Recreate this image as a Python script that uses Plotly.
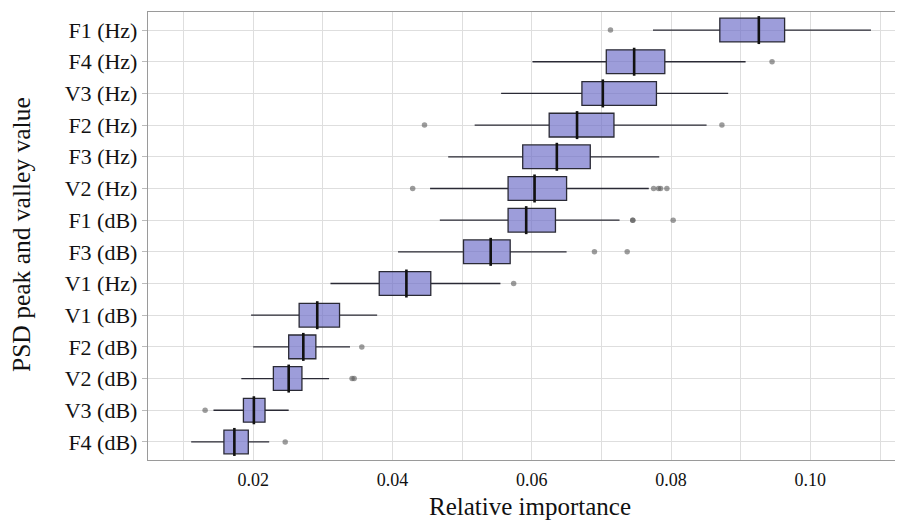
import plotly.graph_objects as go

categories = ["F1 (Hz)", "F4 (Hz)", "V3 (Hz)", "F2 (Hz)", "F3 (Hz)", "V2 (Hz)", "F1 (dB)",
              "F3 (dB)", "V1 (Hz)", "V1 (dB)", "F2 (dB)", "V2 (dB)", "V3 (dB)", "F4 (dB)"]
lower_whisker = [0.0774, 0.0601, 0.0556, 0.0518, 0.0480, 0.0454, 0.0468,
                 0.0408, 0.0311, 0.0197, 0.0200, 0.0183, 0.0143, 0.0111]
q1 = [0.0870, 0.0707, 0.0672, 0.0625, 0.0587, 0.0566, 0.0566,
      0.0502, 0.0381, 0.0266, 0.0251, 0.0229, 0.0186, 0.0158]
median = [0.0926, 0.0747, 0.0702, 0.0665, 0.0636, 0.0604, 0.0592,
          0.0541, 0.0420, 0.0292, 0.0272, 0.0251, 0.0201, 0.0173]
q3 = [0.0963, 0.0791, 0.0779, 0.0718, 0.0684, 0.0650, 0.0634,
      0.0569, 0.0455, 0.0324, 0.0290, 0.0270, 0.0217, 0.0193]
upper_whisker = [0.1087, 0.0907, 0.0882, 0.0851, 0.0783, 0.0768, 0.0726,
                 0.0650, 0.0555, 0.0378, 0.0339, 0.0309, 0.0251, 0.0223]
outlier_cat = ["F1 (Hz)", "F4 (Hz)", "F2 (Hz)", "F2 (Hz)", "V2 (Hz)", "V2 (Hz)", "V2 (Hz)",
               "V2 (Hz)", "V2 (Hz)", "F1 (dB)", "F1 (dB)", "F1 (dB)", "F3 (dB)", "F3 (dB)",
               "V1 (Hz)", "F2 (dB)", "V2 (dB)", "V2 (dB)", "V3 (dB)", "F4 (dB)"]
outlier_val = [0.0713, 0.0945, 0.0446, 0.0873, 0.0429, 0.0775, 0.0782, 0.0785,
               0.0794, 0.0745, 0.0745, 0.0803, 0.0690, 0.0737,
               0.0574, 0.0356, 0.0342, 0.0345, 0.0131, 0.0246]
x_ticks = [0.02, 0.04, 0.06, 0.08, 0.10]
x_tick_labels = ["0.02", "0.04", "0.06", "0.08", "0.10"]
x_title = "Relative importance"
y_title = "PSD peak and valley value"

fig = go.Figure()
fig.add_trace(go.Box(
    y=categories, q1=q1, median=median, q3=q3,
    lowerfence=lower_whisker, upperfence=upper_whisker,
    orientation="h", boxpoints=False, whiskerwidth=0, width=0.75,
    fillcolor="rgba(110,110,200,0.68)",
    line=dict(color="#2a2a35", width=1.3),
    showlegend=False, hoverinfo="skip",
))
fig.add_trace(go.Scatter(
    x=median, y=categories, mode="markers",
    marker=dict(symbol="line-ns", size=20, line=dict(color="#111111", width=2.6)),
    showlegend=False, hoverinfo="skip",
))
fig.add_trace(go.Scatter(
    x=outlier_val, y=outlier_cat, mode="markers",
    marker=dict(color="rgba(90,90,90,0.6)", size=5.5),
    showlegend=False, hoverinfo="skip",
))

# page body has an 8px default margin; compensate so the plot lands where the reference has it
page_off = 8
font_family = "Liberation Serif, Times New Roman, serif"
plot_left, plot_right, plot_top, plot_bottom = 148, 903, 12, 460
plot_w = plot_right - plot_left
plot_h = plot_bottom - plot_top
fig.update_layout(
    width=903 - page_off, height=525 - page_off,
    margin=dict(l=plot_left - page_off, r=0, t=plot_top - page_off,
                b=525 - plot_bottom, autoexpand=False),
    paper_bgcolor="white", plot_bgcolor="white",
    font=dict(family=font_family, color="#111111"),
    xaxis=dict(
        range=[0.0049, 0.1133],
        tickvals=x_ticks, ticktext=x_tick_labels,
        tickfont=dict(size=18, family=font_family),
        showgrid=True, gridcolor="#dedede", gridwidth=1,
        minor=dict(dtick=0.01, tick0=0.01, showgrid=True, gridcolor="#dedede", gridwidth=1),
        showline=True, linecolor="#9a9a9a", linewidth=1.3, mirror=True,
        ticks="outside", ticklen=3, tickcolor="rgba(0,0,0,0)",
        zeroline=False, automargin=False,
    ),
    yaxis=dict(
        categoryorder="array", categoryarray=categories[::-1],
        range=[-0.57, 13.57],
        tickfont=dict(size=22, family=font_family),
        showgrid=True, gridcolor="#dedede", gridwidth=1,
        showline=True, linecolor="#9a9a9a", linewidth=1.3, mirror=False,
        ticks="outside", ticklen=5, tickcolor="#bbbbbb",
        automargin=False,
    ),
    annotations=[
        dict(text=x_title, xref="paper", yref="paper",
             x=(530 - plot_left) / plot_w, y=-(506 - plot_bottom) / plot_h,
             xanchor="center", yanchor="middle", showarrow=False,
             font=dict(size=25, family=font_family, color="#111111")),
        dict(text=y_title, xref="paper", yref="paper",
             x=(22 - plot_left) / plot_w, y=(plot_bottom - 235) / plot_h, textangle=-90,
             xanchor="center", yanchor="middle", showarrow=False,
             font=dict(size=25.5, family=font_family, color="#111111")),
    ],
)
fig.write_html("out.html")
